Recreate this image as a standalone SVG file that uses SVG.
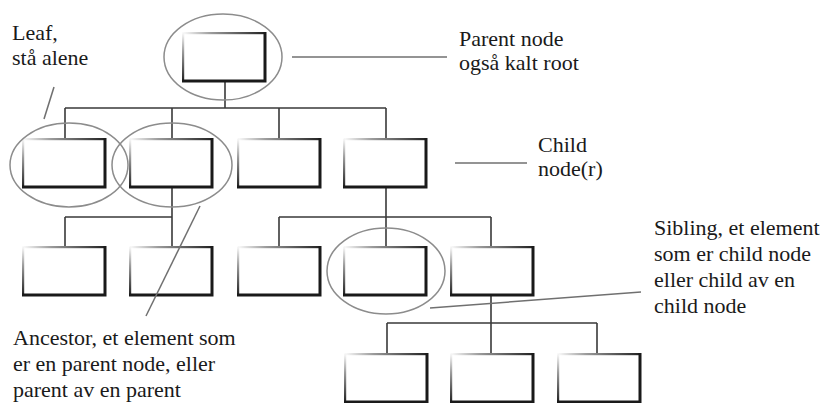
<svg xmlns="http://www.w3.org/2000/svg" width="824" height="403" viewBox="0 0 824 403">
  <defs>
    <linearGradient id="gTop" x1="0" y1="0" x2="1" y2="0">
      <stop offset="0" stop-color="#222" stop-opacity="0"/>
      <stop offset="0.35" stop-color="#222" stop-opacity="0.45"/>
      <stop offset="1" stop-color="#222" stop-opacity="1"/>
    </linearGradient>
    <linearGradient id="gLeft" x1="0" y1="0" x2="0" y2="1">
      <stop offset="0" stop-color="#222" stop-opacity="0"/>
      <stop offset="0.4" stop-color="#222" stop-opacity="0.45"/>
      <stop offset="1" stop-color="#222" stop-opacity="1"/>
    </linearGradient>
    <g id="box">
      <rect x="0" y="0" width="83" height="2.2" fill="url(#gTop)"/>
      <rect x="0" y="0" width="2.2" height="49" fill="url(#gLeft)"/>
      <path d="M83 0 V49 H0" fill="none" stroke="#1a1a1a" stroke-width="3"/>
    </g>
  </defs>
  <style>
    .conn { fill: none; stroke: #3a3a3a; stroke-width: 1.6; }
    .ell { fill: none; stroke: #8c8c8c; stroke-width: 1.5; }
    .ptr { fill: none; stroke: #707070; stroke-width: 1.5; }
    .lbl { font-family: "Liberation Serif", "DejaVu Serif", "Noto Serif", serif; font-size: 22px; fill: #1a1a1a; }
  </style>
  <rect width="824" height="403" fill="#fff"/>

  <g id="connectors">
    <path class="conn" d="M225 80 V108 M65 108 H386 M65 108 V138 M172 108 V138 M279 108 V138 M386 108 V138"/>
    <path class="conn" d="M172 187 V246 M65 217 H172 M65 217 V246"/>
    <path class="conn" d="M386 187 V246 M279 217 H491 M279 217 V246 M491 217 V246"/>
    <path class="conn" d="M491 295 V353 M387 323 H597 M387 323 V353 M597 323 V353"/>
  </g>

  <g id="root"><use href="#box" x="182" y="32"/></g>
  <g id="n1a"><use href="#box" x="22" y="138"/></g>
  <g id="n1b"><use href="#box" x="129" y="138"/></g>
  <g id="n1c"><use href="#box" x="237" y="138"/></g>
  <g id="n1d"><use href="#box" x="343" y="138"/></g>
  <g id="n2a"><use href="#box" x="22" y="246"/></g>
  <g id="n2b"><use href="#box" x="129" y="246"/></g>
  <g id="n2c"><use href="#box" x="237" y="246"/></g>
  <g id="n2d"><use href="#box" x="343" y="246"/></g>
  <g id="n2e"><use href="#box" x="450" y="246"/></g>
  <g id="n3a"><use href="#box" x="344" y="353"/></g>
  <g id="n3b"><use href="#box" x="450" y="353"/></g>
  <g id="n3c"><use href="#box" x="557" y="353"/></g>

  <g id="highlights">
    <ellipse class="ell" cx="223" cy="57" rx="59" ry="43"/>
    <ellipse class="ell" cx="69" cy="165" rx="59" ry="42"/>
    <ellipse class="ell" cx="172" cy="165" rx="60" ry="42"/>
    <ellipse class="ell" cx="386" cy="271" rx="59" ry="43"/>
  </g>

  <g id="pointers">
    <line class="ptr" x1="54" y1="87" x2="44" y2="119"/>
    <line class="ptr" x1="292" y1="57" x2="447" y2="57"/>
    <line class="ptr" x1="455" y1="163" x2="527" y2="163"/>
    <line class="ptr" x1="200" y1="206" x2="146" y2="316"/>
    <line class="ptr" x1="430" y1="308" x2="641" y2="292"/>
  </g>

  <g id="label-leaf" class="lbl">
    <text x="12" y="40" font-family="Liberation Serif, DejaVu Serif, serif">Leaf,</text>
    <text x="12" y="65" font-family="Liberation Serif, DejaVu Serif, serif">stå alene</text>
  </g>
  <g id="label-parent" class="lbl">
    <text x="459" y="46" font-family="Liberation Serif, DejaVu Serif, serif">Parent node</text>
    <text x="459" y="70" font-family="Liberation Serif, DejaVu Serif, serif">også kalt root</text>
  </g>
  <g id="label-child" class="lbl">
    <text x="538" y="152" font-family="Liberation Serif, DejaVu Serif, serif">Child</text>
    <text x="538" y="176" font-family="Liberation Serif, DejaVu Serif, serif">node(r)</text>
  </g>
  <g id="label-sibling" class="lbl">
    <text x="654" y="235" font-family="Liberation Serif, DejaVu Serif, serif">Sibling, et element</text>
    <text x="654" y="261" font-family="Liberation Serif, DejaVu Serif, serif">som er child node</text>
    <text x="654" y="287" font-family="Liberation Serif, DejaVu Serif, serif">eller child av en</text>
    <text x="654" y="313" font-family="Liberation Serif, DejaVu Serif, serif">child node</text>
  </g>
  <g id="label-ancestor" class="lbl">
    <text x="13" y="345" font-family="Liberation Serif, DejaVu Serif, serif">Ancestor, et element som</text>
    <text x="13" y="371" font-family="Liberation Serif, DejaVu Serif, serif">er en parent node, eller</text>
    <text x="13" y="397" font-family="Liberation Serif, DejaVu Serif, serif">parent av en parent</text>
  </g>
</svg>
